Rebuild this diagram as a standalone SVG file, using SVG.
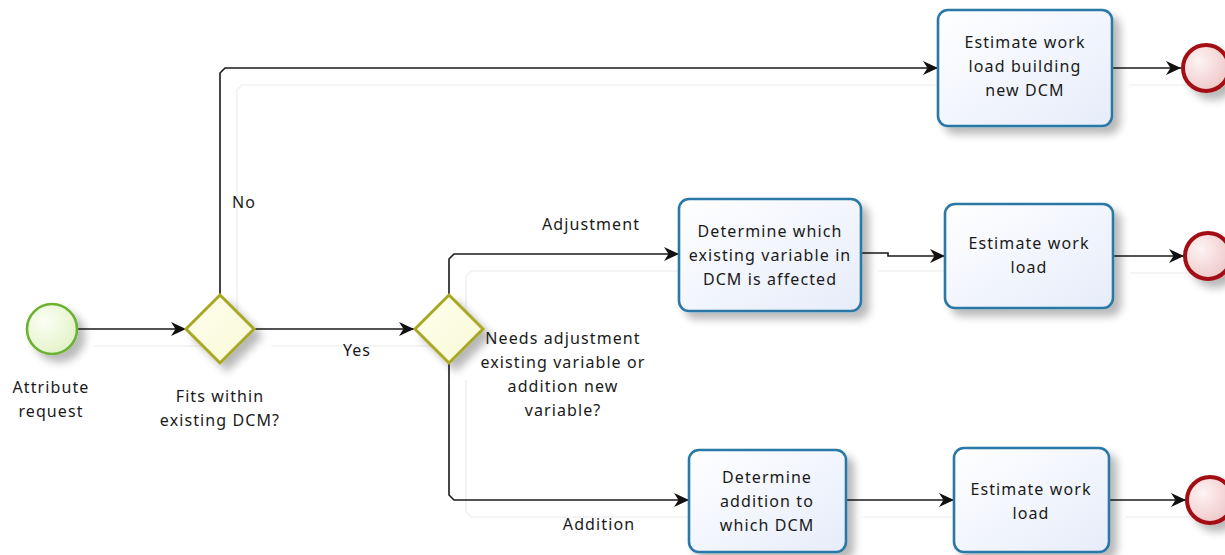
<svg xmlns="http://www.w3.org/2000/svg" width="1225" height="555" viewBox="0 0 1225 555">
  <defs>
    <style>
      text { font-family: "Noto Sans", "Open Sans", "DejaVu Sans", sans-serif; font-size: 16px; letter-spacing: 1.1px; fill: #1a1a1a; text-anchor: middle; }
      .flow { fill: none; stroke: #1a1a1a; stroke-width: 1.6; marker-end: url(#arrow); }
      .flowshadow { fill: none; stroke: #f1f1f1; stroke-width: 1.6; }
      .task { fill: url(#taskFill); stroke: #2b78a6; stroke-width: 2.6; filter: url(#shadow); }
      .gateway { fill: url(#gwFill); stroke: #a9a823; stroke-width: 3; filter: url(#shadow); }
      .start { fill: url(#startFill); stroke: #6cb232; stroke-width: 2.6; filter: url(#shadow); }
      .end { fill: url(#endFill); stroke: #a30f12; stroke-width: 4; filter: url(#shadow); }
    </style>
    <linearGradient id="taskFill" x1="0" y1="0" x2="1" y2="1">
      <stop offset="0" stop-color="#ffffff"/>
      <stop offset="1" stop-color="#e6ecfa"/>
    </linearGradient>
    <linearGradient id="gwFill" x1="0" y1="0" x2="1" y2="1">
      <stop offset="0" stop-color="#ffffee"/>
      <stop offset="1" stop-color="#f8f8d6"/>
    </linearGradient>
    <radialGradient id="startFill" cx="0.35" cy="0.35" r="0.75">
      <stop offset="0" stop-color="#fbfef3"/>
      <stop offset="1" stop-color="#e2f2c6"/>
    </radialGradient>
    <radialGradient id="endFill" cx="0.35" cy="0.35" r="0.75">
      <stop offset="0" stop-color="#fdf3f3"/>
      <stop offset="1" stop-color="#eec4c4"/>
    </radialGradient>
    <filter id="shadow" x="-30%" y="-30%" width="170%" height="170%">
      <feGaussianBlur in="SourceAlpha" stdDeviation="4"/>
      <feOffset dx="7" dy="7" result="blur"/>
      <feComponentTransfer><feFuncA type="linear" slope="0.28"/></feComponentTransfer>
      <feMerge><feMergeNode/><feMergeNode in="SourceGraphic"/></feMerge>
    </filter>
    <marker id="arrow" markerUnits="userSpaceOnUse" markerWidth="17" markerHeight="15" refX="15" refY="7.5" orient="auto">
      <path d="M0,0.5 L15,7.5 L0,14.5 L4.5,7.5 z" fill="#111"/>
    </marker>
  </defs>

  <!-- faint connector shadows -->
  <g id="connector-shadows">
    <polyline class="flowshadow" points="237,312 237,90 242,85 955,85"/>
    <polyline class="flowshadow" points="94,346 203,346"/>
    <polyline class="flowshadow" points="271,346 431,346"/>
    <polyline class="flowshadow" points="466,312 466,276 471,271 697,271"/>
    <polyline class="flowshadow" points="466,380 466,512 471,517 707,517"/>
    <polyline class="flowshadow" points="1129,85 1197,85"/>
    <polyline class="flowshadow" points="878,271 961,271"/>
    <polyline class="flowshadow" points="1130,273 1200,273"/>
    <polyline class="flowshadow" points="863,517 970,517"/>
    <polyline class="flowshadow" points="1126,517 1202,517"/>
  </g>

  <!-- sequence flows -->
  <g id="connectors">
    <line class="flow" x1="77" y1="329" x2="186" y2="329"/>
    <polyline class="flow" points="220,295 220,73 225,68 938,68"/>
    <line class="flow" x1="254" y1="329" x2="414" y2="329"/>
    <polyline class="flow" points="449,295 449,259 454,254 679,254"/>
    <polyline class="flow" points="449,363 449,495 454,500 689,500"/>
    <line class="flow" x1="1112" y1="68" x2="1181" y2="68"/>
    <polyline class="flow" points="861,253 888,253 888,256 945,256"/>
    <line class="flow" x1="1113" y1="256" x2="1184" y2="256"/>
    <line class="flow" x1="846" y1="500" x2="954" y2="500"/>
    <line class="flow" x1="1109" y1="500" x2="1186" y2="500"/>
    <text x="244" y="208">No</text>
    <text x="357" y="356">Yes</text>
    <text x="591" y="230">Adjustment</text>
    <text x="599" y="530">Addition</text>
  </g>

  <g id="start-attribute-request">
    <circle class="start" cx="52" cy="329" r="25"/>
    <text x="51" y="393">Attribute</text>
    <text x="51" y="417">request</text>
  </g>

  <g id="gateway-fits-dcm">
    <polygon class="gateway" points="220,295 254,329 220,363 186,329"/>
    <text x="220" y="402">Fits within</text>
    <text x="220" y="426">existing DCM?</text>
  </g>

  <g id="gateway-adjust-or-add">
    <polygon class="gateway" points="449,295 483,329 449,363 415,329"/>
    <text x="563" y="344">Needs adjustment</text>
    <text x="563" y="368">existing variable or</text>
    <text x="563" y="392">addition new</text>
    <text x="563" y="416">variable?</text>
  </g>

  <g id="task-estimate-new-dcm">
    <rect class="task" x="938" y="10" width="174" height="116" rx="10"/>
    <text x="1025" y="48">Estimate work</text>
    <text x="1025" y="72">load building</text>
    <text x="1025" y="96">new DCM</text>
  </g>

  <g id="task-determine-variable">
    <rect class="task" x="679" y="199" width="182" height="112" rx="10"/>
    <text x="770" y="237">Determine which</text>
    <text x="770" y="261">existing variable in</text>
    <text x="770" y="285">DCM is affected</text>
  </g>

  <g id="task-estimate-adjustment">
    <rect class="task" x="945" y="204" width="168" height="104" rx="10"/>
    <text x="1029" y="249">Estimate work</text>
    <text x="1029" y="273">load</text>
  </g>

  <g id="task-determine-addition">
    <rect class="task" x="689" y="450" width="157" height="102" rx="10"/>
    <text x="767" y="483">Determine</text>
    <text x="767" y="507">addition to</text>
    <text x="767" y="531">which DCM</text>
  </g>

  <g id="task-estimate-addition">
    <rect class="task" x="954" y="448" width="155" height="104" rx="10"/>
    <text x="1031" y="495">Estimate work</text>
    <text x="1031" y="519">load</text>
  </g>

  <g id="end-new-dcm">
    <circle class="end" cx="1206" cy="68" r="23"/>
  </g>
  <g id="end-adjustment">
    <circle class="end" cx="1208" cy="256" r="23"/>
  </g>
  <g id="end-addition">
    <circle class="end" cx="1210" cy="500" r="23"/>
  </g>
</svg>
